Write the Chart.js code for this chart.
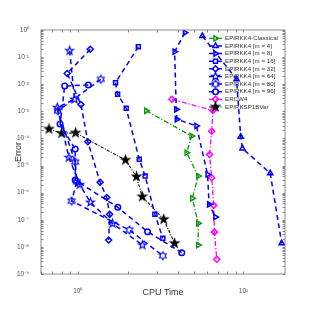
<!doctype html>
<html>
<head>
<meta charset="UTF-8">
<title>Work precision</title>
<script src="https://cdn.jsdelivr.net/npm/chart.js@4/dist/chart.umd.min.js"></script>
<style>
	body { margin: 0; background: #fff; }
	canvas { display: block; }
</style>
</head>
<body>
<canvas id="chart-area" width="315" height="315"></canvas>
<script>
	// series names (legend order)
	var seriesNames = ['EPIRKK4-Classical', 'EPIRKK4 [m = 4]', 'EPIRKK4 [m = 8]', 'EPIRKK4 [m = 16]',
		'EPIRKK4 [m = 32]', 'EPIRKK4 [m = 64]', 'EPIRKK4 [m = 80]', 'EPIRKK4 [m = 96]', 'ERCW4', 'EPIRKSP1BVar'];

	// CPU time / error
	var classicalX = [2.59, 4.86, 4.54, 5.33, 4.91, 5.33, 5.33];
	var classicalY = [1.05e-3, 1.23e-4, 2.98e-5, 4.1e-6, 6.2e-7, 7.4e-8, 1.17e-8];
	var m4X = [5.65, 9.08, 9.62, 9.85, 14.5, 17.0];
	var m4Y = [0.60, 0.0152, 1.16e-4, 4.3e-5, 5.2e-6, 1.35e-8];
	var m8X = [4.43, 3.84, 3.93, 3.96, 5.20, 6.07, 6.20, 6.77];
	var m8Y = [0.795, 0.158, 1.19e-3, 5.1e-4, 2.9e-4, 4.7e-6, 3.7e-7, 1.26e-7];
	var m16X = [2.32, 1.69, 1.74, 1.96, 2.35, 2.55, 2.92, 3.26];
	var m16Y = [0.242, 0.0114, 4.3e-3, 1.3e-3, 1.7e-5, 4.1e-6, 1.6e-7, 2.1e-8];
	var m32X = [1.190, 0.863, 1.045, 1.150, 1.364, 1.497, 1.557, 1.536];
	var m32Y = [0.194, 0.0249, 1.79e-3, 7.58e-5, 2.41e-6, 6.63e-7, 1.59e-7, 1.79e-8];
	var m64X = [0.893, 0.956, 0.753, 0.884, 1.028, 1.193, 1.622, 2.455];
	var m64Y = [0.172, 2.78e-3, 1.38e-3, 1.98e-5, 1.97e-6, 4.41e-7, 7.28e-8, 1.17e-8];
	var m80X = [1.377, 0.758, 0.965, 0.986, 0.918, 2.049, 3.257];
	var m80Y = [0.0152, 1.03e-3, 1.35e-5, 2.54e-6, 4.92e-7, 4.19e-8, 4.73e-9];
	var m96X = [1.157, 0.834, 0.782, 0.965, 0.965, 1.744, 2.639, 4.240];
	var m96Y = [9.36e-3, 8.6e-3, 3.41e-4, 4.08e-5, 2.93e-6, 2.88e-7, 3.63e-8, 6.1e-9];
	var ercwX = [3.70, 6.54, 6.43, 6.24, 6.43, 6.61, 6.68, 6.90];
	var ercwY = [2.78e-3, 1.07e-3, 1.84e-4, 2.56e-5, 3.55e-6, 3.4e-7, 3.5e-8, 3.5e-9];
	var sp1bX = [0.67, 0.80, 0.969, 1.94, 2.26, 2.45, 3.30, 3.84];
	var sp1bY = [2.23e-4, 1.55e-4, 1.6e-4, 1.6e-5, 3.9e-6, 7.1e-7, 1.04e-7, 1.35e-8];

	var xMin = 0.634, xMax = 17.8;
	var yMin = 1e-9, yMax = 1;

	Chart.defaults.font.family = '"Liberation Sans", Arial, sans-serif';

	// star markers (matlab pentagram / hexagram)
	function starMarker(n, color, fill, r) {
		var c = document.createElement('canvas');
		var s = Math.ceil(2 * r + 4);
		c.width = s; c.height = s;
		var g = c.getContext('2d');
		g.translate(s / 2, s / 2);
		var inner = n === 5 ? r * 0.4 : r * 0.58;
		g.beginPath();
		for (var i = 0; i < 2 * n; i++) {
			var a = -Math.PI / 2 + i * Math.PI / n;
			var rr = i % 2 ? inner : r;
			g.lineTo(rr * Math.cos(a), rr * Math.sin(a));
		}
		g.closePath();
		g.lineWidth = 1.1;
		g.strokeStyle = color;
		if (fill) { g.fillStyle = color; g.fill(); }
		g.stroke();
		return c;
	}

	var BLUE = '#0000ff', GREEN = '#129612', MAGENTA = '#ff00ff', BLACK = '#000000';
	var dash = [5, 3.5], dashDot = [5, 2, 1.2, 2];

	function pts(xs, ys) {
		return xs.map(function (x, i) { return {x: x, y: ys[i]}; });
	}

	function series(i, xs, ys, color, lineDash, width, style, rot, radius) {
		return {
			label: seriesNames[i],
			data: pts(xs, ys),
			showLine: true,
			borderColor: color,
			borderWidth: width,
			borderDash: lineDash,
			backgroundColor: 'rgba(0,0,0,0)',
			pointStyle: style,
			pointRotation: rot || 0,
			pointRadius: radius || 3,
			pointBorderWidth: 1.5,
			pointBorderColor: color,
			pointBackgroundColor: 'rgba(0,0,0,0)',
			tension: 0,
			fill: false
		};
	}

	var datasets = [
		series(0, classicalX, classicalY, GREEN, dashDot, 1.3, 'triangle', 90),
		series(1, m4X, m4Y, BLUE, dash, 1.5, 'triangle', 0),
		series(2, m8X, m8Y, BLUE, dash, 1.5, 'triangle', 90),
		series(3, m16X, m16Y, BLUE, dash, 1.5, 'rect', 0, 2.8),
		series(4, m32X, m32Y, BLUE, dash, 1.5, 'rectRot', 0),
		series(5, m64X, m64Y, BLUE, dash, 1.5, starMarker(5, BLUE, false, 4.2)),
		series(6, m80X, m80Y, BLUE, dash, 1.5, starMarker(6, BLUE, false, 4)),
		series(7, m96X, m96Y, BLUE, dash, 1.5, 'circle', 0, 2.8),
		series(8, ercwX, ercwY, MAGENTA, dashDot, 1.3, 'rectRot', 0),
		series(9, sp1bX, sp1bY, BLACK, [3, 1.5, 1, 1.5], 1.1, starMarker(5, BLACK, true, 4.5))
	];

	function supNum(v) {
		var map = {'-': '\u207B', '0': '\u2070', '1': '\u00B9', '2': '\u00B2', '3': '\u00B3', '4': '\u2074',
			'5': '\u2075', '6': '\u2076', '7': '\u2077', '8': '\u2078', '9': '\u2079'};
		var e = String(Math.round(Math.log10(v)));
		return '10' + e.split('').map(function (ch) { return map[ch]; }).join('');
	}

	function decades(min, max) {
		var out = [];
		for (var k = Math.ceil(Math.log10(min) - 1e-9); k <= Math.floor(Math.log10(max) + 1e-9); k++) {
			out.push({value: Math.pow(10, k)});
		}
		return out;
	}

	// box + inward major/minor ticks like matlab
	var boxPlugin = {
		id: 'box',
		afterDatasetsDraw: function (chart) {
			var ctx = chart.ctx, a = chart.chartArea;
			var xs = chart.scales.x, ys = chart.scales.y;
			var len = 2.5;
			ctx.save();
			ctx.strokeStyle = '#6e6e6e';
			ctx.lineWidth = 0.8;
			ctx.strokeRect(a.left, a.top, a.right - a.left, a.bottom - a.top);
			ctx.beginPath();
			var k, m, v, p;
			for (k = Math.floor(Math.log10(xs.min)); k <= Math.ceil(Math.log10(xs.max)); k++) {
				for (m = 1; m < 10; m++) {
					v = m * Math.pow(10, k);
					if (v < xs.min || v > xs.max) continue;
					p = Math.round(xs.getPixelForValue(v)) + 0.5;
					ctx.moveTo(p, a.bottom); ctx.lineTo(p, a.bottom - len);
					ctx.moveTo(p, a.top); ctx.lineTo(p, a.top + len);
				}
			}
			for (k = Math.floor(Math.log10(ys.min)); k <= Math.ceil(Math.log10(ys.max)); k++) {
				for (m = 1; m < 10; m++) {
					v = m * Math.pow(10, k);
					if (v < ys.min * 0.999 || v > ys.max * 1.001) continue;
					p = Math.round(ys.getPixelForValue(v)) + 0.5;
					ctx.moveTo(a.left, p); ctx.lineTo(a.left + len, p);
					ctx.moveTo(a.right, p); ctx.lineTo(a.right - len, p);
				}
			}
			ctx.stroke();
			ctx.restore();
		}
	};

	// matlab style legend inside the axes, no box, no background
	var legendPlugin = {
		id: 'innerLegend',
		afterDraw: function (chart) {
			var ctx = chart.ctx;
			var x0 = 209, x1 = 222, tx = 225, y0 = 38.3, dy = 7.63;
			ctx.save();
			ctx.font = '6.2px "Liberation Sans", Arial, sans-serif';
			ctx.textBaseline = 'middle';
			ctx.textAlign = 'left';
			chart.data.datasets.forEach(function (ds, i) {
				var y = y0 + i * dy;
				ctx.strokeStyle = ds.borderColor;
				ctx.lineWidth = ds.borderWidth;
				ctx.setLineDash(ds.borderDash);
				ctx.beginPath();
				ctx.moveTo(x0, y); ctx.lineTo(x1, y);
				ctx.stroke();
				ctx.setLineDash([]);
				ctx.fillStyle = 'rgba(0,0,0,0)';
				ctx.strokeStyle = ds.pointBorderColor;
				ctx.lineWidth = ds.pointBorderWidth;
				Chart.helpers.drawPoint(ctx, {
					pointStyle: ds.pointStyle, rotation: ds.pointRotation,
					radius: ds.pointRadius, borderWidth: ds.pointBorderWidth
				}, (x0 + x1) / 2, y);
				ctx.fillStyle = '#333';
				ctx.fillText(ds.label, tx, y);
			});
			ctx.restore();
		}
	};

	var config = {
		type: 'scatter',
		data: {datasets: datasets},
		options: {
			responsive: false,
			animation: false,
			layout: {padding: {left: 0, right: 30, top: 30, bottom: 0}},
			plugins: {legend: {display: false}, tooltip: {enabled: false}},
			scales: {
				x: {
					type: 'logarithmic',
					min: xMin, max: xMax,
					grid: {display: false},
					border: {display: false},
					afterBuildTicks: function (s) { s.ticks = decades(s.min, s.max); },
					afterFit: function (s) { s.height = 41; },
					ticks: {
						autoSkip: false, maxRotation: 0, padding: 5,
						color: '#555', font: {size: 6.5},
						callback: function (v) { return supNum(v); }
					},
					title: {display: true, text: 'CPU Time', color: '#333', font: {size: 9}, padding: {top: 0, bottom: 17.5}}
				},
				y: {
					type: 'logarithmic',
					min: yMin, max: yMax,
					grid: {display: false},
					border: {display: false},
					afterBuildTicks: function (s) { s.ticks = decades(s.min, s.max); },
					afterFit: function (s) { s.width = 41; },
					ticks: {
						autoSkip: false, padding: 4,
						color: '#555', font: {size: 6.5},
						callback: function (v) { return supNum(v); }
					},
					title: {display: true, text: 'Error', color: '#333', font: {size: 9}, padding: {top: 13, bottom: 0}}
				}
			}
		},
		plugins: [boxPlugin, legendPlugin]
	};

	var ctx = document.getElementById('chart-area').getContext('2d');
	window.myChart = new Chart(ctx, config);
</script>
</body>
</html>
